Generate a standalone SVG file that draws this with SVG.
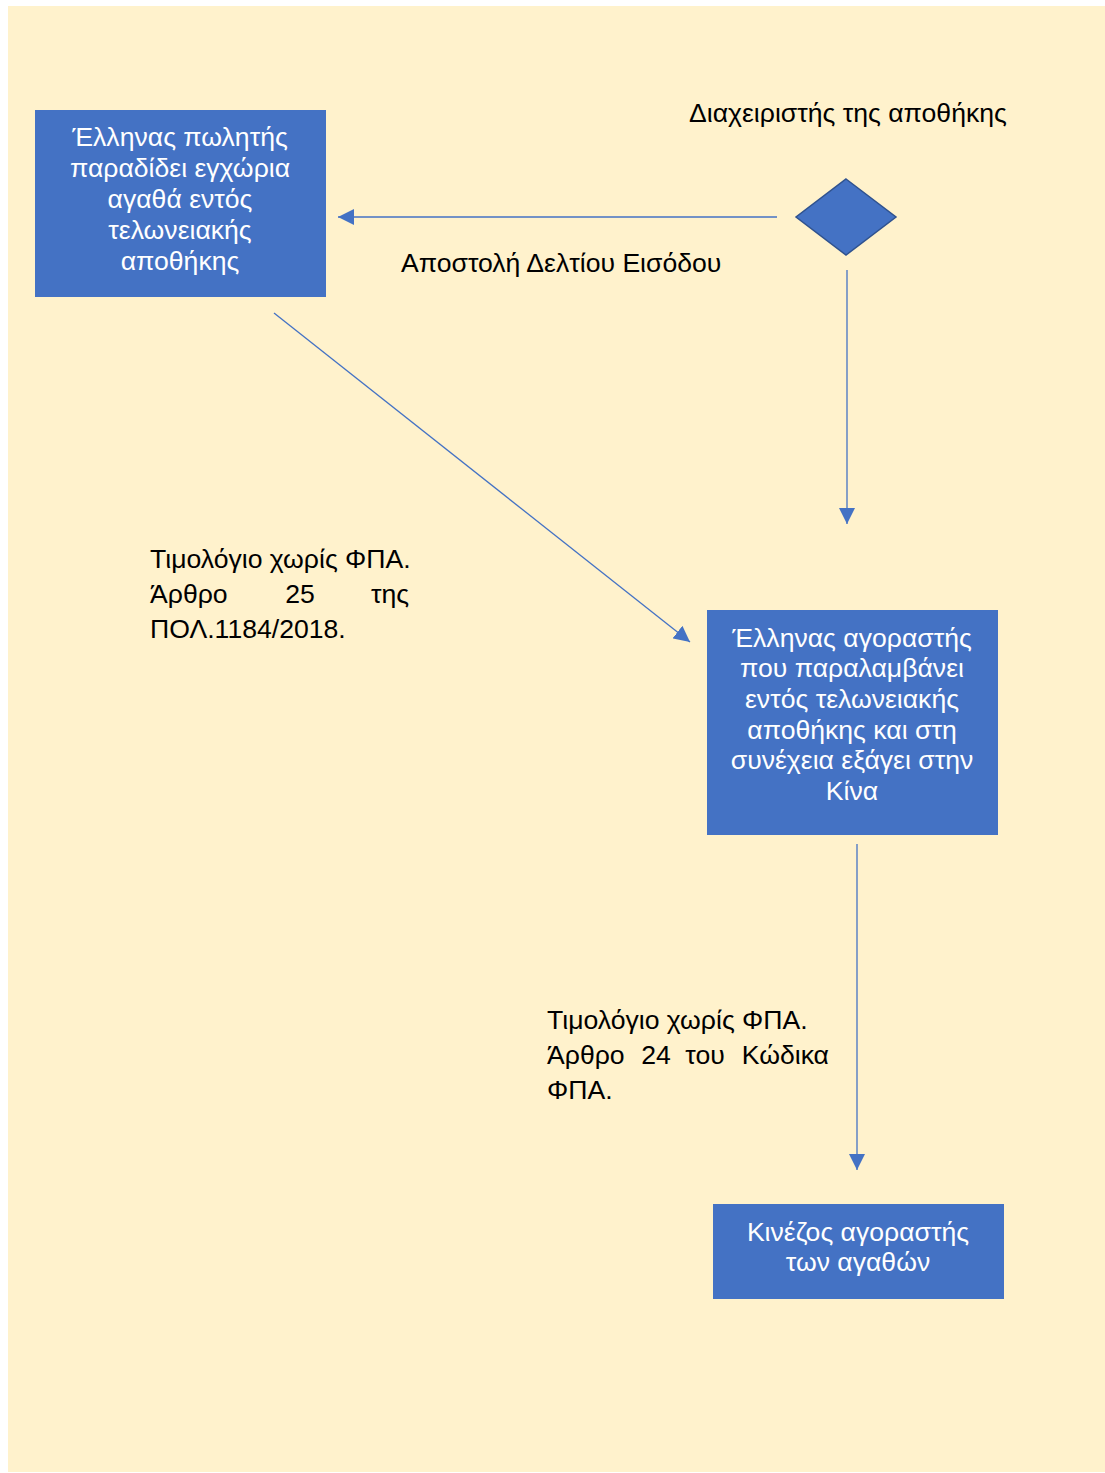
<svg xmlns="http://www.w3.org/2000/svg" width="1105" height="1473" viewBox="0 0 1105 1473">
<style>
.box{fill:#4472C4}
.bt{fill:#fff;font-family:"Liberation Sans",Arial,sans-serif;font-size:26.6px;text-anchor:middle}
.lt{fill:#000;font-family:"Liberation Sans",Arial,sans-serif;font-size:26.6px}
.con{stroke:#4472C4;stroke-width:1.3;fill:none}
</style>
<defs>
<marker id="ah" viewBox="0 0 10 10" refX="10" refY="5" markerWidth="16" markerHeight="16" markerUnits="userSpaceOnUse" orient="auto">
<path d="M0,0 L10,5 L0,10 z" fill="#4472C4"/>
</marker>
</defs>
<rect x="0" y="0" width="1105" height="1473" fill="#fff"/>
<rect x="8" y="6" width="1097" height="1466" fill="#FFF2CC"/>
<g id="connectors">
<line class="con" x1="777" y1="217" x2="338" y2="217" marker-end="url(#ah)"/>
<line class="con" x1="847" y1="270" x2="847" y2="524" marker-end="url(#ah)"/>
<line class="con" x1="274" y1="313" x2="690" y2="642" marker-end="url(#ah)"/>
<line class="con" x1="857" y1="844" x2="857" y2="1170" marker-end="url(#ah)"/>
</g>
<g id="seller">
<rect class="box" x="35" y="110" width="291" height="187"/>
<text class="bt" x="180" y="146">Έλληνας πωλητής</text>
<text class="bt" x="180" y="177">παραδίδει εγχώρια</text>
<text class="bt" x="180" y="208">αγαθά εντός</text>
<text class="bt" x="180" y="239">τελωνειακής</text>
<text class="bt" x="180" y="270">αποθήκης</text>
</g>
<g id="manager">
<text class="lt" x="689" y="122">Διαχειριστής της αποθήκης</text>
<polygon points="846,179 896,217 846,255 796,217" fill="#4472C4" stroke="#2F528F" stroke-width="1.5"/>
</g>
<g id="label-entry">
<text class="lt" x="401" y="272">Αποστολή Δελτίου Εισόδου</text>
</g>
<g id="label-invoice1">
<text class="lt" x="150" y="568">Τιμολόγιο χωρίς ΦΠΑ.</text>
<text class="lt" x="150" y="603">Άρθρο</text>
<text class="lt" x="300" y="603" text-anchor="middle">25</text>
<text class="lt" x="409" y="603" text-anchor="end">της</text>
<text class="lt" x="150" y="638">ΠΟΛ.1184/2018.</text>
</g>
<g id="buyer">
<rect class="box" x="707" y="610" width="291" height="225"/>
<text class="bt" x="852" y="647">Έλληνας αγοραστής</text>
<text class="bt" x="852" y="677">που παραλαμβάνει</text>
<text class="bt" x="852" y="708">εντός τελωνειακής</text>
<text class="bt" x="852" y="739">αποθήκης και στη</text>
<text class="bt" x="852" y="769">συνέχεια εξάγει στην</text>
<text class="bt" x="852" y="800">Κίνα</text>
</g>
<g id="label-invoice2">
<text class="lt" x="547" y="1029">Τιμολόγιο χωρίς ΦΠΑ.</text>
<text class="lt" x="547" y="1064">Άρθρο</text>
<text class="lt" x="656" y="1064" text-anchor="middle">24</text>
<text class="lt" x="705" y="1064" text-anchor="middle">του</text>
<text class="lt" x="829" y="1064" text-anchor="end">Κώδικα</text>
<text class="lt" x="547" y="1099">ΦΠΑ.</text>
</g>
<g id="chinese-buyer">
<rect class="box" x="713" y="1204" width="291" height="95"/>
<text class="bt" x="858" y="1241">Κινέζος αγοραστής</text>
<text class="bt" x="858" y="1271">των αγαθών</text>
</g>
</svg>
